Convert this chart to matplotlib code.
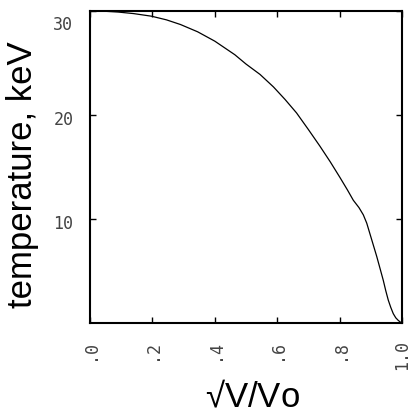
import matplotlib
matplotlib.use('Agg')
import matplotlib.pyplot as plt
import matplotlib.transforms as mtransforms

# values
x_vals = [0.0, 0.05, 0.09, 0.14, 0.197, 0.245, 0.29, 0.345, 0.40, 0.464, 0.50, 0.545,
          0.588, 0.625, 0.662, 0.70, 0.737, 0.77, 0.801, 0.825, 0.844, 0.862, 0.876,
          0.887, 0.897, 0.908, 0.919, 0.93, 0.94, 0.948, 0.956, 0.964, 0.972, 0.98,
          0.988, 0.995, 1.0]
temp_vals = [30.0, 29.97, 29.9, 29.75, 29.5, 29.15, 28.7, 28.0, 27.1, 25.8, 24.9, 23.9,
             22.7, 21.5, 20.2, 18.6, 17.0, 15.5, 14.0, 12.8, 11.8, 11.1, 10.4,
             9.6, 8.6, 7.5, 6.4, 5.2, 4.1, 3.1, 2.2, 1.5, 0.9, 0.5,
             0.25, 0.08, 0.0]

x_ticks = [0.0, 0.2, 0.4, 0.6, 0.8, 1.0]
x_ticklabels = ['.0', '.2', '.4', '.6', '.8', '1.0']
y_ticks = [10, 20, 30]
y_ticklabels = ['10', '20', '30']

fig = plt.figure(figsize=(4.15, 4.19), dpi=100)
ax = fig.add_axes([90/415, 96/419, 312/415, 312/419])

ax.plot(x_vals, temp_vals, color='black', lw=0.9)

ax.set_xlim(0, 1)
ax.set_ylim(0, 30)
ax.set_xticks(x_ticks)
ax.set_xticklabels(x_ticklabels, rotation=90, va='top', ha='center')
ax.set_yticks(y_ticks)
ax.set_yticklabels(y_ticklabels, va='center')

ax.tick_params(direction='in', top=True, right=True, length=4, width=1,
               labelsize=12, colors='black', labelcolor='#444444')
ax.tick_params(axis='x', pad=12)
ax.tick_params(axis='y', pad=12)
for lab in ax.get_xticklabels() + ax.get_yticklabels():
    lab.set_family('DejaVu Sans Mono')

# y tick labels sit a little below their ticks
shift = mtransforms.ScaledTranslation(0, -5/100, fig.dpi_scale_trans)
for lab in ax.get_yticklabels():
    lab.set_transform(lab.get_transform() + shift)
top_shift = mtransforms.ScaledTranslation(0, -9/100, fig.dpi_scale_trans)
ax.get_yticklabels()[-1].set_transform(ax.get_yticklabels()[-1].get_transform() + top_shift)

for sp in ax.spines.values():
    sp.set_linewidth(1.5)

fig.text(23/415, 1 - 175/419, 'temperature, keV', rotation=90, ha='center', va='center',
         fontsize=25, family='Liberation Sans')
fig.text(252/415, 1 - 398/419, '√V/V$\\mathregular{o}$', ha='center', va='center',
         fontsize=25, family='Liberation Sans')

fig.savefig('out.png', dpi=100)
